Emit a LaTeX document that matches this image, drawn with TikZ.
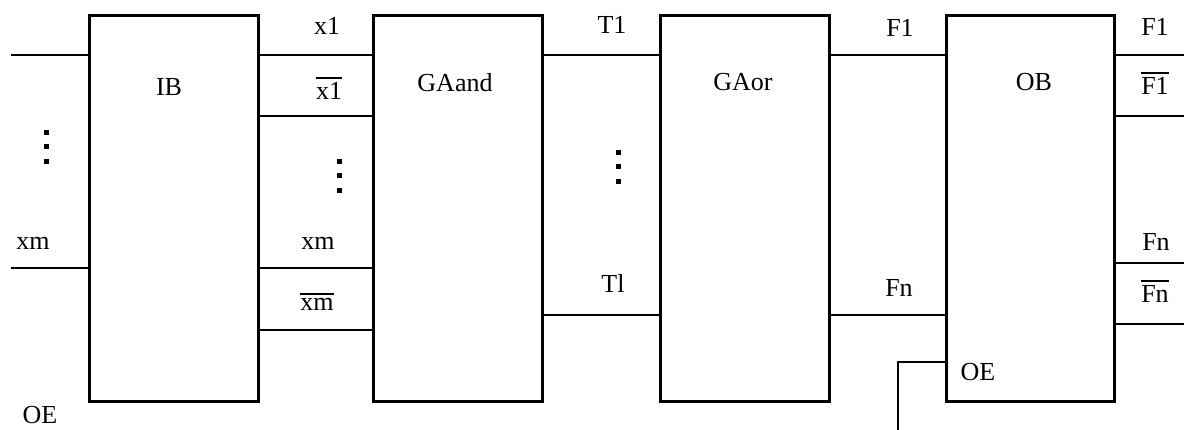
\documentclass[tikz,border=0pt]{standalone}
\usepackage{fontspec}
\setmainfont{Liberation Serif}
\newcommand\barred[1]{\vbox{\hrule height 2.2pt\kern 3.5pt\hbox{#1}}}
\begin{document}
\begin{tikzpicture}[x=1pt,y=-1pt,
  blk/.style={draw, line width=2.8pt, minimum width=169pt, minimum height=386pt, inner sep=0pt, anchor=north west},
  wire/.style={line width=2.6pt},
  lbl/.style={anchor=base, inner sep=0pt, font=\fontsize{26}{30}\selectfont},
  dotsq/.style={fill, minimum size=5pt, inner sep=0pt}]
\useasboundingbox (0,0) rectangle (1184,430);
% boxes
\node[blk] (IB) at (88,14) {};
\node[blk] (GAand) at (372,14) {};
\node[blk] (GAor) at (659,14) {};
\node[blk, minimum width=168pt] (OB) at (945,14) {};
% box labels
\node[lbl] (tIB) at (169,96) {IB};
\node[lbl] (tGAand) at (455,92) {GAand};
\node[lbl] (tGAor) at (743,91) {GAor};
\node[lbl] (tOB) at (1034,91) {OB};
\node[lbl] (tOEin) at (978,381) {OE};
% left inputs
\coordinate (in1) at (11,55);
\coordinate (inm) at (11,268);
\draw[wire] (in1) -- (IB.west |- 0,55);
\draw[wire] (inm) -- (IB.west |- 0,268);
\node[lbl] (lxm) at (33,250) {xm};
\node[lbl] (lOE) at (40,423) {OE};
\node[dotsq] (d1a) at (46,133) {};
\node[dotsq] (d1b) at (46,147) {};
\node[dotsq] (d1c) at (46,162) {};
% IB -> GAand
\draw[wire] (IB.east |- 0,55) -- (GAand.west |- 0,55);
\draw[wire] (IB.east |- 0,116) -- (GAand.west |- 0,116);
\draw[wire] (IB.east |- 0,268) -- (GAand.west |- 0,268);
\draw[wire] (IB.east |- 0,330) -- (GAand.west |- 0,330);
\node[lbl] (lx1) at (327,35) {x1};
\node[lbl] (lnx1) at (329,100) {\barred{x1}};
\node[lbl] (lxm2) at (318,250) {xm};
\node[lbl] (lnxm) at (317,311) {\barred{xm}};
\node[dotsq] (d2a) at (339,162) {};
\node[dotsq] (d2b) at (339,176) {};
\node[dotsq] (d2c) at (339,191) {};
% GAand -> GAor
\draw[wire] (GAand.east |- 0,55) -- (GAor.west |- 0,55);
\draw[wire] (GAand.east |- 0,315) -- (GAor.west |- 0,315);
\node[lbl] (lT1) at (612,34) {T1};
\node[lbl] (lTl) at (613,293) {Tl};
\node[dotsq] (d3a) at (618,153) {};
\node[dotsq] (d3b) at (618,167) {};
\node[dotsq] (d3c) at (618,182) {};
% GAor -> OB
\draw[wire] (GAor.east |- 0,55) -- (OB.west |- 0,55);
\draw[wire] (GAor.east |- 0,315) -- (OB.west |- 0,315);
\node[lbl] (lF1) at (900,37) {F1};
\node[lbl] (lFn) at (899,297) {Fn};
% OE input
\coordinate (oe) at (898,432);
\draw[wire] (oe) |- (OB.west |- 0,362);
% outputs
\coordinate (o1) at (1186,55);
\coordinate (o2) at (1186,116);
\coordinate (o3) at (1186,263);
\coordinate (o4) at (1186,324);
\draw[wire] (OB.east |- o1) -- (o1);
\draw[wire] (OB.east |- o2) -- (o2);
\draw[wire] (OB.east |- o3) -- (o3);
\draw[wire] (OB.east |- o4) -- (o4);
\node[lbl] (lF1o) at (1155,36) {F1};
\node[lbl] (lnF1o) at (1155,95) {\barred{F1}};
\node[lbl] (lFno) at (1156,251) {Fn};
\node[lbl] (lnFno) at (1155,303) {\barred{Fn}};
\end{tikzpicture}
\end{document}
